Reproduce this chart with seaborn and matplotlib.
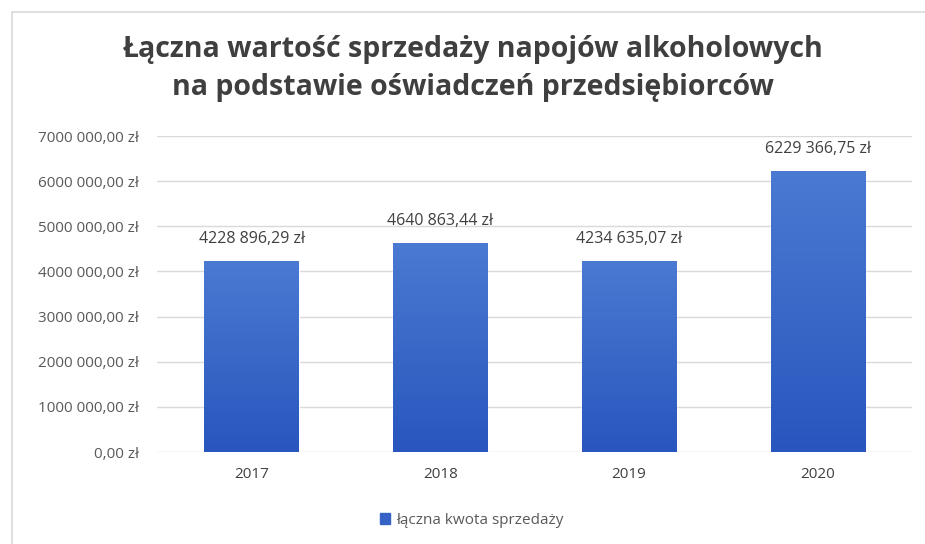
import pandas as pd
import numpy as np
import matplotlib
matplotlib.use("Agg")
import matplotlib.pyplot as plt
from matplotlib.patches import Rectangle
from matplotlib.colors import LinearSegmentedColormap
import seaborn as sns

# data
years = ["2017", "2018", "2019", "2020"]
values = [4228896.29, 4640863.44, 4234635.07, 6229366.75]
y_ticks = [0, 1000000, 2000000, 3000000, 4000000, 5000000, 6000000, 7000000]

title = "Łączna wartość sprzedaży napojów alkoholowych\nna podstawie oświadczeń przedsiębiorców"
legend_label = "łączna kwota sprzedaży"

df = pd.DataFrame({"rok": years, "kwota": values})

sns.set_theme(style="white")
plt.rcParams["font.family"] = ["Open Sans", "DejaVu Sans"]


def fmt_zl(v):
    # polish money format: "4228 896,29 zł"
    s = f"{v:,.2f}"
    whole, frac = s.split(".")
    parts = whole.split(",")
    if len(parts) > 1:
        whole = "".join(parts[:-1]) + " " + parts[-1]
    return f"{whole},{frac} zł"


fig = plt.figure(figsize=(9.25, 5.44), dpi=100)
ax = fig.add_axes([0.170, 0.169, 0.816, 0.581])

bar_color = "#3562c4"
sns.barplot(data=df, x="rok", y="kwota", color=bar_color, width=0.5,
            saturation=1, ax=ax, zorder=3)

# vertical gradient fill on the bars (lighter top, darker bottom)
grad_cmap = LinearSegmentedColormap.from_list("bar", ["#2856be", "#4a7ad2"])
grad = np.linspace(0, 1, 256).reshape(-1, 1)
for p in ax.patches:
    x0, y0 = p.get_x(), p.get_y()
    w, h = p.get_width(), p.get_height()
    im = ax.imshow(grad, cmap=grad_cmap, origin="lower", aspect="auto",
                   extent=[x0, x0 + w, y0, y0 + h], zorder=4)
    im.set_clip_path(p)
ax.set_ylim(0, 7000000)
ax.set_xlim(-0.5, len(years) - 0.5)

ax.set_yticks(y_ticks)
ax.set_yticklabels([fmt_zl(t) for t in y_ticks])
ax.tick_params(axis="y", labelsize=11, colors="#595959", length=0, pad=13)
ax.tick_params(axis="x", labelsize=11, colors="#404040", length=0, pad=11)
ax.set_xlabel("")
ax.set_ylabel("")
ax.grid(axis="y", color="#d9d9d9", linewidth=1, zorder=0)
ax.set_axisbelow(True)
for sp in ax.spines.values():
    sp.set_visible(False)

# value labels above bars
for i, v in enumerate(values):
    ax.annotate(fmt_zl(v), (i, v), xytext=(0, 10), textcoords="offset points",
                ha="center", va="bottom", fontsize=11.5, color="#404040")

fig.text(0.511, 0.874, title, ha="center", va="center", fontsize=20.5,
         fontweight="bold", color="#3f3f3f", linespacing=1.38)

# legend
handle = Rectangle((0, 0), 1, 1, color=bar_color)
fig.legend([handle], [legend_label], loc="center", bbox_to_anchor=(0.51, 0.043),
           frameon=False, fontsize=11, handlelength=0.7, handleheight=0.7,
           handletextpad=0.4, labelcolor="#595959")

# light frame around chart area
frame = Rectangle((0.013, -0.01), 1.0, 0.988, transform=fig.transFigure,
                  fill=False, edgecolor="#d9d9d9", linewidth=1.2)
fig.patches.append(frame)

fig.savefig("out.png", dpi=100)
